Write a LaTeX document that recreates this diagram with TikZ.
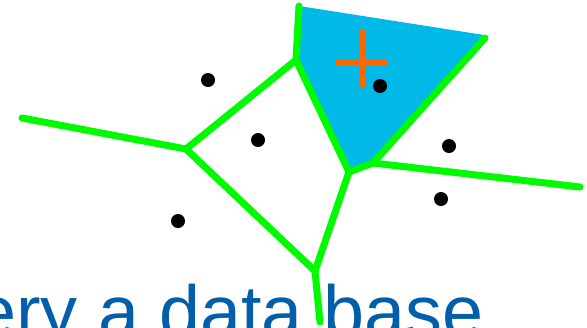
\documentclass[tikz,border=0pt]{standalone}
\usepackage{fontspec}
\usepackage{tikz}
\usetikzlibrary{positioning, calc}
\newfontfamily\labelsans{Liberation Sans}
\definecolor{Edge}{RGB}{0, 250, 0}
\definecolor{Cell}{RGB}{0, 185, 230}
\definecolor{Marker}{RGB}{255, 102, 0}
\definecolor{Caption}{RGB}{0, 94, 170}

\begin{document}
\begin{tikzpicture}[x=1bp, y=-1bp,
    edge/.style={draw=Edge, line width=7bp, line join=round, line cap=round},
    site/.style={circle, fill=black, inner sep=0pt, minimum size=14bp},
    cross/.style={draw=Marker, line width=5bp}]
        \useasboundingbox (0, 0) rectangle (587, 327);
        \clip (0, 0) rectangle (587, 327);

        % Voronoi vertices
        \coordinate (va) at (296, 60);
        \coordinate (vb) at (186, 149);
        \coordinate (vc) at (315, 271);
        \coordinate (vd) at (349, 172);
        \coordinate (ve) at (373, 163);
        % open ends
        \coordinate (top) at (299, 6);
        \coordinate (cellcorner) at (484, 35);
        \coordinate (topright) at (485, 38);
        \coordinate (left) at (22, 118);
        \coordinate (right) at (580, 187);
        \coordinate (bottom) at (320, 322);

        % Highlighted cell
        \fill[Cell] (top) -- (cellcorner) -- (ve) -- (vd) -- (va) -- cycle;

        % Edges
        \draw[edge] (left) -- (vb) -- (va) -- (top);
        \draw[edge] (vb) -- (vc) -- (bottom);
        \draw[edge] (vc) -- (vd) -- (ve) -- (topright);
        \draw[edge] (va) -- (vd);
        \draw[edge] (ve) -- (right);

        % Sites
        \node[site] (s1) at (208, 80) {};
        \node[site] (s2) at (258, 140) {};
        \node[site] (s3) at (178, 221) {};
        \node[site] (s4) at (380, 86) {};
        \node[site] (s5) at (449, 146) {};
        \node[site] (s6) at (441, 199) {};

        % Query point
        \coordinate (query) at (362, 62);
        \draw[cross] ($(query)+(-27, 0)$) -- ($(query)+(25, 0)$);
        \draw[cross] ($(query)+(0, -32)$) -- ($(query)+(0, 25)$);

        % Caption
        \node[anchor=base west, inner sep=0pt, text=Caption,
              font=\labelsans\fontsize{74}{80}\selectfont] (caption) at (-25, 337) {ery a data base};
    \end{tikzpicture}
\end{document}
